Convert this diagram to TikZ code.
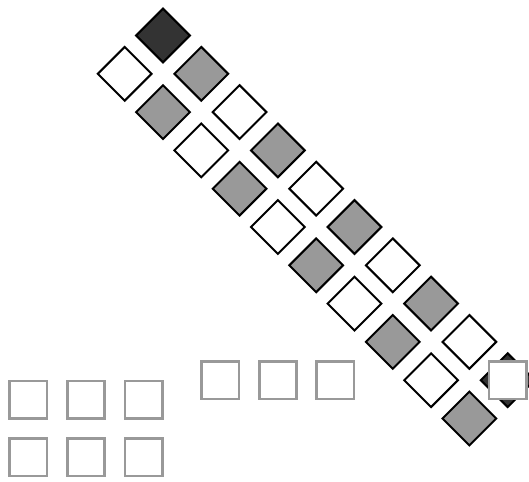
\documentclass[tikz,border=0pt]{standalone}
\definecolor{scuro}{gray}{0.2}
\definecolor{medio}{gray}{0.6}
\begin{document}
\begin{tikzpicture}[x=0.02cm, y=-0.02cm, line join=miter]
\tikzset{
  rombo/.style={shape=rectangle, draw=black, line width=0.04cm, rotate=45,
    minimum size=0.76cm, inner sep=0pt},
  cella/.style={shape=rectangle, draw=medio, line width=0.05cm, fill=white,
    minimum size=0.75cm, inner sep=0pt}
}
\useasboundingbox (0,0) rectangle (529,482);

% prima fila di rombi
\foreach \k/\c in {0/scuro,1/medio,2/white,3/medio,4/white,5/medio,6/white,7/medio,8/white,9/scuro}
  \node[rombo, fill=\c] (a\k) at ({163+38.3*\k},{35.5+38.3*\k}) {};

% seconda fila di rombi
\foreach \k/\c in {0/white,1/medio,2/white,3/medio,4/white,5/medio,6/white,7/medio,8/white,9/medio}
  \node[rombo, fill=\c] (b\k) at ({124.7+38.3*\k},{73.8+38.3*\k}) {};

% quadrato sopra l'ultimo rombo
\node[cella] (q) at (a9) {};

% riga di quadrati al centro
\node[cella] (m1) at (220.3,380.5) {};
\node[cella] (m2) at (278,380.5) {};
\node[cella] (m3) at (335.2,380.5) {};

% griglia in basso a sinistra
\node[cella] (g11) at (28.3,399.7) {};
\node[cella] (g12) at (86,399.7) {};
\node[cella] (g13) at (143.7,399.7) {};
\node[cella] (g21) at (28.3,457.5) {};
\node[cella] (g22) at (86,457.5) {};
\node[cella] (g23) at (143.7,457.5) {};

\end{tikzpicture}
\end{document}
